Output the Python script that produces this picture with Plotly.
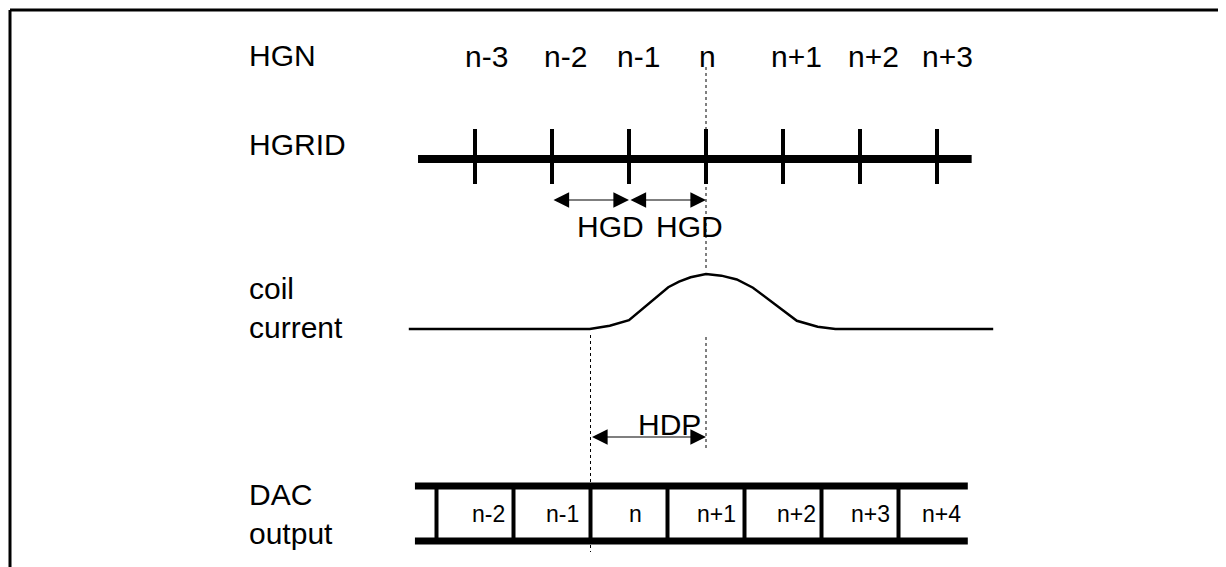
import plotly.graph_objects as go

# ---- data (x in units of HGD, 0 = grid point n) ----
grid_index = [-3, -2, -1, 0, 1, 2, 3]
grid_labels = ["n-3", "n-2", "n-1", "n", "n+1", "n+2", "n+3"]
dac_labels = ["n-2", "n-1", "n", "n+1", "n+2", "n+3", "n+4"]
dac_boundaries = [-3.5, -2.5, -1.5, -0.5, 0.5, 1.5, 2.5]
hgd_spans = [[-2, -1], [-1, 0]]
hdp_span = [-1.5, 0]
coil_x = [-3.86, -1.51, -1.25, -1.0, -0.49, -0.35, -0.2, 0.0, 0.2, 0.4, 0.61, 1.18, 1.45, 1.68, 3.73]
coil_amp = [0, 0, 0.06, 0.16, 0.76, 0.86, 0.94, 1.0, 0.97, 0.9, 0.75, 0.15, 0.04, 0, 0]
row_labels = ["HGN", "HGRID", "coil<br>current", "DAC<br>output"]

# ---- layout constants (screen pixels; page body has an 8px margin) ----
SCREEN_W, SCREEN_H = 1226, 567
OFF = 8
W, H = SCREEN_W - OFF, SCREEN_H - OFF
ORIGIN_PX, UNIT_PX = 706, 77
FONT = "Liberation Sans, Arial, sans-serif"
BIG = 30
SMALL = 23


def px(p):
    return (p - OFF) / W


def py(p):
    return 1 - (p - OFF) / H


fig = go.Figure()


def seg_trace(xs, ys, width, dash="solid", yaxis="y", color="black"):
    fig.add_trace(go.Scatter(x=xs, y=ys, mode="lines", yaxis=yaxis,
                             line=dict(color=color, width=width, dash=dash),
                             hoverinfo="skip", showlegend=False))


# HGRID thick line and ticks
seg_trace([-3.74, 3.45], [159, 159], 8)
tx, ty = [], []
for g in grid_index:
    tx += [g, g, None]
    ty += [129, 184, None]
seg_trace(tx, ty, 4)

# dotted reference lines
seg_trace([0, 0], [67, 450], 1, "dot")
seg_trace([hdp_span[0], hdp_span[0]], [329, 552], 1, "dot")

# coil current curve (own axis)
seg_trace(coil_x, coil_amp, 2.5, yaxis="y2")

# DAC output bars
seg_trace([-3.78, 3.40], [486, 486], 7)
seg_trace([-3.78, 3.40], [541, 541], 7)
dx, dy = [], []
for b in dac_boundaries:
    dx += [b, b, None]
    dy += [486, 541, None]
seg_trace(dx, dy, 4)

ann = []
# top labels
top_shift = [0.15, 0.18, 0.12, 0.02, 0.18, 0.18, 0.14]
for g, lab, s in zip(grid_index, grid_labels, top_shift):
    ann.append(dict(x=g + s, y=56, text=lab, showarrow=False, xref="x", yref="y",
                    font=dict(size=BIG, family=FONT, color="black"), xanchor="center", yanchor="middle"))
# DAC labels
dac_shift = [0.17, 0.13, 0.08, 0.14, 0.17, 0.14, 0.06]
for b, lab, s in zip(dac_boundaries, dac_labels, dac_shift):
    ann.append(dict(x=b + 0.5 + s, y=514, text=lab, showarrow=False, xref="x", yref="y",
                    font=dict(size=SMALL, family=FONT, color="black"), xanchor="center", yanchor="middle"))
# row labels
row_y = [55, 144, 308, 514]
for lab, yy in zip(row_labels, row_y):
    ann.append(dict(x=px(247), y=py(yy), text=lab, showarrow=False, xref="paper", yref="paper",
                    font=dict(size=BIG, family=FONT, color="black"), xanchor="left", yanchor="middle",
                    align="left"))
# HGD arrows
for a, b in hgd_spans:
    ann.append(dict(x=b, y=200, ax=a, ay=200, xref="x", yref="y", axref="x", ayref="y",
                    text="", showarrow=True, arrowhead=2, startarrowhead=2, arrowside="end+start",
                    arrowwidth=1.2, arrowsize=2.6, startarrowsize=2.6, standoff=0, startstandoff=0,
                    arrowcolor="black"))
ann.append(dict(x=-1.24, y=226, text="HGD", showarrow=False, xref="x", yref="y",
                font=dict(size=BIG, family=FONT, color="black")))
ann.append(dict(x=-0.22, y=226, text="HGD", showarrow=False, xref="x", yref="y",
                font=dict(size=BIG, family=FONT, color="black")))
# HDP arrow
ann.append(dict(x=hdp_span[1], y=437, ax=hdp_span[0], ay=437, xref="x", yref="y", axref="x", ayref="y",
                text="", showarrow=True, arrowhead=2, startarrowhead=2, arrowside="end+start",
                arrowwidth=1.2, arrowsize=2.6, startarrowsize=2.6, standoff=0, startstandoff=0,
                arrowcolor="black"))
ann.append(dict(x=-0.48, y=424, text="HDP", showarrow=False, xref="x", yref="y",
                font=dict(size=BIG, family=FONT, color="black")))

# frame (top and left border)
shapes = [
    dict(type="line", xref="paper", yref="paper", x0=px(10), x1=1, y0=py(10), y1=py(10),
         line=dict(color="black", width=3)),
    dict(type="line", xref="paper", yref="paper", x0=px(10), x1=px(10), y0=py(10), y1=0,
         line=dict(color="black", width=3)),
]

fig.update_layout(
    width=W, height=H, margin=dict(l=0, r=0, t=0, b=0),
    paper_bgcolor="white", plot_bgcolor="white",
    xaxis=dict(range=[(OFF - ORIGIN_PX) / UNIT_PX, (SCREEN_W - ORIGIN_PX) / UNIT_PX],
               visible=False, fixedrange=True),
    yaxis=dict(range=[SCREEN_H, OFF], visible=False, fixedrange=True),
    yaxis2=dict(range=[-0.1, 1.1], domain=[py(334.5), py(268.5)], anchor="x",
                visible=False, fixedrange=True),
    annotations=ann, shapes=shapes, showlegend=False,
)

fig.write_html("out.html")
